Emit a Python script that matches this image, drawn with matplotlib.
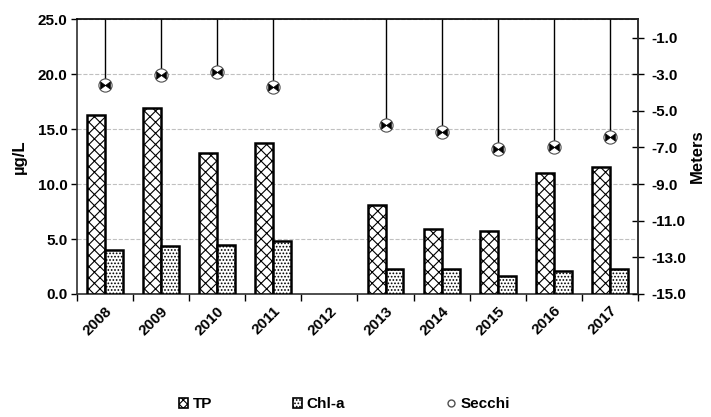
import matplotlib
matplotlib.use("Agg")
import matplotlib.pyplot as plt
import numpy as np
from matplotlib.path import Path
from matplotlib.patches import Patch
from matplotlib.lines import Line2D

plt.rcParams['font.family'] = ['Liberation Sans', 'DejaVu Sans']
plt.rcParams['font.weight'] = 'bold'
plt.rcParams['hatch.linewidth'] = 0.8

years = ['2008', '2009', '2010', '2011', '2012', '2013', '2014', '2015', '2016', '2017']
tp = [16.3, 16.9, 12.85, 13.75, np.nan, 8.1, 5.9, 5.75, 11.0, 11.55]
chla = [4.0, 4.35, 4.45, 4.85, np.nan, 2.25, 2.25, 1.6, 2.05, 2.25]
secchi = [-3.6, -3.05, -2.9, -3.7, np.nan, -5.8, -6.15, -7.1, -7.0, -6.45]

# bow-tie marker for the secchi disk
bowtie = Path([(-1, -0.75), (0, 0), (-1, 0.75), (-1, -0.75),
               (1, 0.75), (0, 0), (1, -0.75), (1, 0.75)],
              [Path.MOVETO, Path.LINETO, Path.LINETO, Path.CLOSEPOLY,
               Path.MOVETO, Path.LINETO, Path.LINETO, Path.CLOSEPOLY])

fig = plt.figure(figsize=(7.11, 4.17), dpi=100)
ax = fig.add_axes([0.1083, 0.295, 0.789, 0.659])
x = np.arange(len(years))
w = 0.32

ax.bar(x - w / 2, tp, w, color='white', edgecolor='black', hatch='xxx', linewidth=1.8, zorder=3)
ax.bar(x + w / 2, chla, w, color='white', edgecolor='black', hatch='.....', linewidth=1.8, zorder=3)

ax.set_xlim(-0.5, len(years) - 0.5)
ax.set_ylim(0, 25)
ax.set_yticks([0, 5, 10, 15, 20, 25])
ax.set_yticklabels(['%.1f' % v for v in [0, 5, 10, 15, 20, 25]], fontsize=11, fontweight='bold')
ax.set_xticks(x)
ax.set_xticklabels(years, rotation=45, ha='right', rotation_mode='anchor', fontsize=11, fontweight='bold')
ax.tick_params(axis='x', length=0, pad=7)
ax.set_xticks(np.arange(-0.5, len(years)), minor=True)
ax.tick_params(axis='x', which='minor', length=5, direction='out', width=1)
ax.tick_params(axis='y', length=4, direction='out', width=1, pad=3)
ax.yaxis.grid(True, linestyle='--', color='#c0c0c0', linewidth=0.8)
ax.set_axisbelow(True)
for s in ax.spines.values():
    s.set_color('#303030')
    s.set_linewidth(1.2)
ax.spines['top'].set_color('black')
ax.set_ylabel('µg/L', fontsize=12, fontweight='bold', labelpad=8)

ax2 = ax.twinx()
ax2.set_ylim(-15, 0)
ax2.set_yticks(np.arange(-15, 0, 2))
ax2.set_yticklabels(['%.1f' % v for v in np.arange(-15, 0, 2)], fontsize=11, fontweight='bold')
ax2.tick_params(axis='y', direction='inout', length=8, width=1, pad=6)
ax2.set_ylabel('Meters', fontsize=12, fontweight='bold', labelpad=2)
for s in ax2.spines.values():
    s.set_visible(False)
ax2.spines['right'].set_visible(True)
ax2.spines['right'].set_color('#303030')
ax2.spines['right'].set_linewidth(1.2)

sx = x[~np.isnan(secchi)]
sv = np.array(secchi)[~np.isnan(secchi)]
ax2.vlines(sx, sv, 0, color='black', linewidth=1.0, zorder=4)
ax2.plot(sx, sv, linestyle='none', marker='o', markersize=9.5, markerfacecolor='white',
         markeredgecolor='#505050', markeredgewidth=0.8, zorder=5)
ax2.plot(sx, sv, linestyle='none', marker=bowtie, markersize=7, markerfacecolor='black',
         markeredgecolor='black', markeredgewidth=0.5, zorder=6)

# legend entries placed one by one, like the spread-out original
entries = [
    (Patch(facecolor='white', edgecolor='black', hatch='xxxx', linewidth=1.2), 'TP', 0.252),
    (Patch(facecolor='white', edgecolor='black', hatch='.....', linewidth=1.2), 'Chl-a', 0.412),
    (Line2D([], [], linestyle='none', marker='o', markersize=5, markerfacecolor='white',
            markeredgecolor='#505050'), 'Secchi', 0.628),
]
for h, lab, xpos in entries:
    leg = fig.legend([h], [lab], loc='center left', bbox_to_anchor=(xpos, 0.03), frameon=False,
                     handlelength=0.6, handleheight=0.6, handletextpad=0.3, borderaxespad=0,
                     borderpad=0, prop={'weight': 'bold', 'size': 11})

fig.savefig('out.png', dpi=100)
